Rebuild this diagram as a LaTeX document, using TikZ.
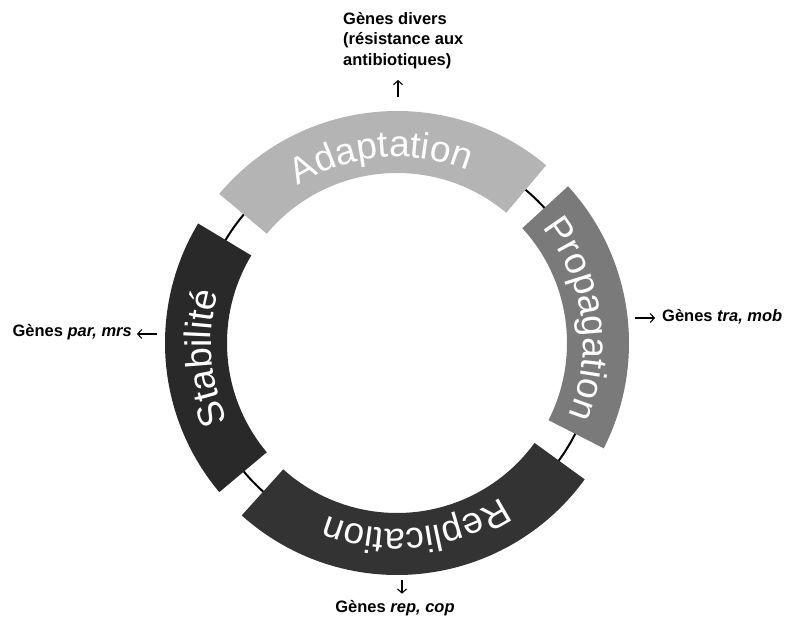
\documentclass[tikz,border=0pt]{standalone}
\usepackage{fontspec}
\setmainfont{Liberation Sans}
\usetikzlibrary{arrows.meta,decorations.text,positioning}

\definecolor{adaptgray}{HTML}{B4B4B4}
\definecolor{propgray}{HTML}{7A7A7A}
\definecolor{replgray}{HTML}{333333}
\definecolor{stabgray}{HTML}{292929}

\def\rin{170pt}
\def\rout{232pt}
\def\rtext{186pt}

% one block of the ring: start angle, end angle, colour
\newcommand\ringpart[3]{%
  \fill[#3] (#1:\rout) arc[start angle=#1,end angle=#2,radius=\rout]
    -- (#2:\rin) arc[start angle=#2,end angle=#1,radius=\rin] -- cycle;}

\begin{document}
\begin{tikzpicture}[x=1pt,y=1pt,
  genes/.style={font=\fontsize{16.5}{20.5}\selectfont\bfseries,inner sep=0pt},
  genearrow/.style={-{Straight Barb[length=4pt,width=9pt]},line width=1.1pt},
  ringtext/.style={decorate,decoration={text along path,text align=center,
    text={|\color{white}\fontsize{37}{37}\selectfont|#1}}}]
\useasboundingbox (0,0) rectangle (787,621);

\begin{scope}[shift={(397,278)}]
\draw[line width=2pt] (0,0) circle[radius=200pt];
\ringpart{140}{50}{adaptgray}
\ringpart{42.5}{-27}{propgray}
\ringpart{-36}{-132}{replgray}
\ringpart{220}{149}{stabgray}
\path[ringtext=Adaptation] (140:\rtext) arc[start angle=140,end angle=50,radius=\rtext];
\path[ringtext=Propagation] (42.5:\rtext) arc[start angle=42.5,end angle=-27,radius=\rtext];
\path[ringtext=Replication] (-36:\rtext) arc[start angle=-36,end angle=-132,radius=\rtext];
\path[ringtext=Stabilité] (220:\rtext) arc[start angle=220,end angle=149,radius=\rtext];
\end{scope}

\node[genes,anchor=north west,align=left] (divers) at (343,609)
  {Gènes divers\\(résistance aux\\antibiotiques)};
\node[genes,anchor=base east] (parmrs) at (132,284) {Gènes \textit{par, mrs}};
\node[genes,anchor=base west] (tramob) at (662,299) {Gènes \textit{tra, mob}};
\node[genes,anchor=base] (repcop) at (395,8) {Gènes \textit{rep, cop}};

\coordinate (adaptout) at (398,524);
\coordinate (stabout) at (157,287);
\coordinate (propout) at (635,303);
\coordinate (replout) at (402,41);

\draw[genearrow,shorten >=11pt] (adaptout) -- (adaptout |- divers.south);
\draw[genearrow,shorten >=5pt] (stabout) -- (stabout -| parmrs.east);
\draw[genearrow,shorten >=7pt] (propout) -- (propout -| tramob.west);
\draw[genearrow,shorten >=7pt] (replout) -- (replout |- repcop.north);
\end{tikzpicture}
\end{document}
